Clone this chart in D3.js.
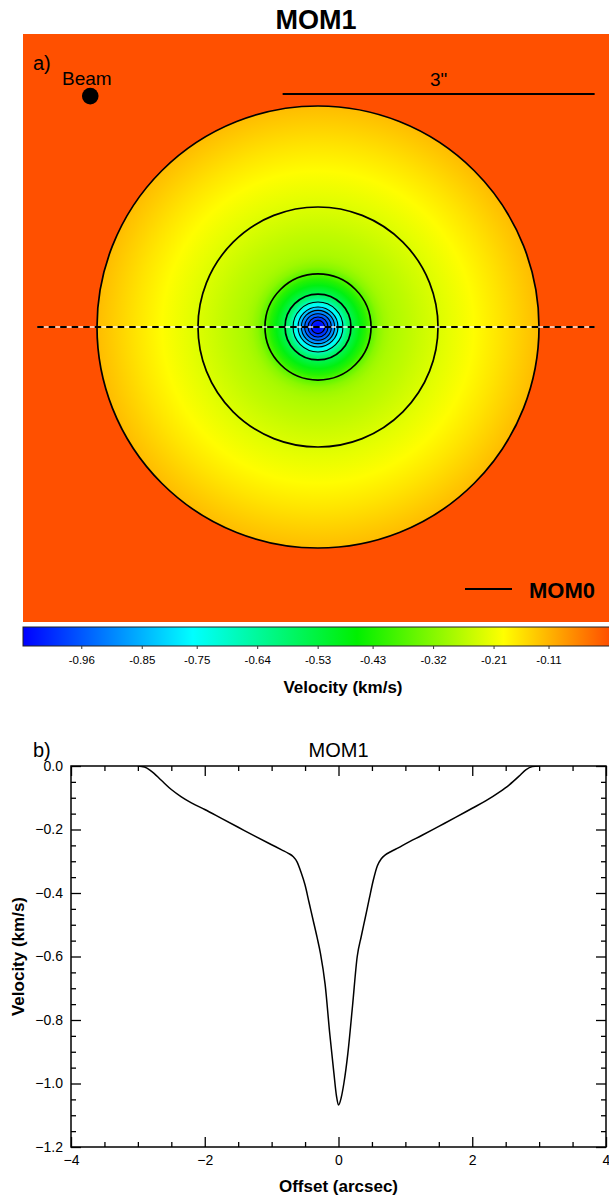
<!DOCTYPE html>
<html>
<head>
<meta charset="utf-8">
<script src="https://cdn.jsdelivr.net/npm/d3@7"></script>
<style>
  body { margin: 0; background: #fff; }
  svg { display: block; }
  text { font-family: "Liberation Sans", Arial, Helvetica, sans-serif; fill: #000; }
</style>
</head>
<body>
<svg id="chart" width="609" height="1197"></svg>
<script>
// Velocity profile along the dashed cut (panel b): offset in arcsec, velocity in km/s
const profileOffset = [
  -3.0, -2.9, -2.8, -2.65, -2.5, -2.35, -2.2, -2.0, -1.75, -1.5, -1.25, -1.0,
  -0.85, -0.75, -0.68, -0.62, -0.56, -0.5, -0.44, -0.38, -0.32, -0.27, -0.2,
  -0.13, -0.07, -0.03, 0.0, 0.04, 0.08, 0.14, 0.21, 0.28, 0.34, 0.4, 0.46,
  0.52, 0.58, 0.64, 0.7, 0.78, 0.9, 1.0, 1.25, 1.5, 1.75, 2.0, 2.2, 2.4,
  2.55, 2.7, 2.8, 2.9, 3.0
];
const profileVelocity = [
  0.0, -0.003, -0.016, -0.045, -0.074, -0.097, -0.116, -0.137, -0.165, -0.193, -0.221, -0.248,
  -0.264, -0.275, -0.285, -0.302, -0.335, -0.375, -0.43, -0.485, -0.54, -0.59, -0.688,
  -0.845, -0.965, -1.04, -1.068, -1.045, -1.0, -0.905, -0.755, -0.6, -0.537, -0.478, -0.418,
  -0.36, -0.315, -0.292, -0.28, -0.27, -0.257, -0.245, -0.218, -0.19, -0.162, -0.133, -0.11, -0.083,
  -0.06, -0.032, -0.012, -0.002, 0.0
];

// MOM0 contour radii (arcsec) drawn over the MOM1 map
const contourRadii = [2.125, 1.154, 0.51, 0.317, 0.24, 0.192, 0.16, 0.128, 0.096, 0.064];
const maskRadius = 2.125;

// Colour table of the velocity map
const cmapFrac = [0, 0.29, 0.57, 0.82, 1];
const cmapColors = ["#0000ff", "#00ffff", "#00f000", "#ffff00", "#ff5000"];
const velocityMin = -1.066;
const velocityMax = 0;
const cbarTickLabels = ["-0.96", "-0.85", "-0.75", "-0.64", "-0.53", "-0.43", "-0.32", "-0.21", "-0.11"];

// Panel b axes
const xTicksMajor = [-4, -2, 0, 2, 4];
const yTicksMajor = [0, -0.2, -0.4, -0.6, -0.8, -1.0, -1.2];

const svg = d3.select("#chart");
const defs = svg.append("defs");

// ---------- panel a: MOM1 map ----------
const mapBox = { left: 23, top: 34, right: 609, bottom: 622 };
const mapCx = 318, mapCy = 327, pxPerArcsec = 104;
const mapX = d3.scaleLinear().domain([0, 1]).range([mapCx, mapCx + pxPerArcsec]);
const mapY = d3.scaleLinear().domain([0, 1]).range([mapCy, mapCy - pxPerArcsec]);
const mapR = d3.scaleLinear().domain([0, 1]).range([0, pxPerArcsec]);

const color = d3.scaleLinear()
  .domain(cmapFrac.map(f => velocityMin + f * (velocityMax - velocityMin)))
  .range(cmapColors);

svg.append("text")
  .attr("x", 316).attr("y", 29)
  .attr("text-anchor", "middle")
  .attr("font-size", 27).attr("font-weight", "bold")
  .text("MOM1");

defs.append("clipPath").attr("id", "mapClip")
  .append("rect")
  .attr("x", mapBox.left).attr("y", mapBox.top)
  .attr("width", mapBox.right - mapBox.left)
  .attr("height", mapBox.bottom - mapBox.top);

const map = svg.append("g").attr("clip-path", "url(#mapClip)");

map.append("rect")
  .attr("x", mapBox.left).attr("y", mapBox.top)
  .attr("width", mapBox.right - mapBox.left)
  .attr("height", mapBox.bottom - mapBox.top)
  .attr("fill", color(velocityMax));

// radial velocity field from the measured profile (positive offsets)
const gradOuter = 2.2;
const radial = defs.append("radialGradient")
  .attr("id", "mom1Field")
  .attr("gradientUnits", "userSpaceOnUse")
  .attr("cx", mapCx).attr("cy", mapCy)
  .attr("r", mapR(gradOuter));
profileOffset.forEach((o, i) => {
  if (o < 0 || o > gradOuter) return;
  radial.append("stop")
    .attr("offset", o / gradOuter)
    .attr("stop-color", color(profileVelocity[i]));
});

map.append("circle")
  .attr("cx", mapCx).attr("cy", mapCy)
  .attr("r", mapR(maskRadius))
  .attr("fill", "url(#mom1Field)");

// MOM0 contours
map.selectAll(".contour")
  .data(contourRadii)
  .enter()
  .append("circle")
  .attr("class", "contour")
  .attr("cx", mapCx).attr("cy", mapCy)
  .attr("r", d => mapR(d))
  .attr("fill", "none")
  .attr("stroke", "#000")
  .attr("stroke-width", (d, i) => (i < 4 ? 1.7 : 1.1));

// dashed cut line
const cutFrom = -2.7, cutTo = 2.66;
map.append("line")
  .attr("x1", mapX(cutFrom)).attr("x2", mapX(cutTo))
  .attr("y1", mapY(0)).attr("y2", mapY(0))
  .attr("stroke", "#fff").attr("stroke-opacity", 0.65).attr("stroke-width", 2);
map.append("line")
  .attr("x1", mapX(cutFrom)).attr("x2", mapX(cutTo))
  .attr("y1", mapY(0)).attr("y2", mapY(0))
  .attr("stroke", "#000").attr("stroke-width", 2.2)
  .attr("stroke-dasharray", "6.5,5");

// scale bar 3"
const barStart = -0.34, barLength = 3;
map.append("line")
  .attr("x1", mapX(barStart)).attr("x2", mapX(barStart + barLength))
  .attr("y1", 94).attr("y2", 94)
  .attr("stroke", "#000").attr("stroke-width", 2);
map.append("text")
  .attr("x", mapX(barStart + barLength / 2)).attr("y", 86)
  .attr("text-anchor", "middle")
  .attr("font-family", "DejaVu Sans")
  .attr("font-size", 19)
  .text('3"');

// beam
const beamX = -2.19, beamY = 2.22, beamDiameter = 0.16;
map.append("circle")
  .attr("cx", mapX(beamX)).attr("cy", mapY(beamY))
  .attr("r", mapR(beamDiameter / 2))
  .attr("fill", "#000");
map.append("text")
  .attr("x", 62).attr("y", 85)
  .attr("font-family", "DejaVu Sans")
  .attr("font-size", 19)
  .text("Beam");
map.append("text")
  .attr("x", 33).attr("y", 70)
  .attr("font-size", 20)
  .text("a)");

// MOM0 legend
map.append("line")
  .attr("x1", 465).attr("x2", 512)
  .attr("y1", 589).attr("y2", 589)
  .attr("stroke", "#000").attr("stroke-width", 2);
map.append("text")
  .attr("x", 529).attr("y", 598)
  .attr("font-size", 22).attr("font-weight", "bold")
  .text("MOM0");

// ---------- colour bar ----------
const cbar = { left: 23, right: 610, top: 627, height: 19 };
const cbX = d3.scaleLinear().domain([velocityMin, velocityMax]).range([cbar.left, cbar.right - 1]);

const lin = defs.append("linearGradient")
  .attr("id", "cbarGrad")
  .attr("gradientUnits", "userSpaceOnUse")
  .attr("x1", cbX(velocityMin)).attr("x2", cbX(velocityMax))
  .attr("y1", 0).attr("y2", 0);
cmapFrac.forEach((f, i) => {
  lin.append("stop")
    .attr("offset", f)
    .attr("stop-color", cmapColors[i]);
});

svg.append("rect")
  .attr("x", cbar.left).attr("y", cbar.top)
  .attr("width", cbar.right - cbar.left)
  .attr("height", cbar.height)
  .attr("fill", "url(#cbarGrad)")
  .attr("stroke", "#222").attr("stroke-width", 1);

const cbAxis = svg.append("g")
  .attr("transform", `translate(0,${cbar.top + cbar.height})`)
  .call(d3.axisBottom(cbX)
    .tickValues(cbarTickLabels.map(Number))
    .tickSize(3)
    .tickSizeOuter(0)
    .tickPadding(7)
    .tickFormat((d, i) => cbarTickLabels[i]));
cbAxis.select(".domain").remove();
cbAxis.selectAll("line").attr("stroke", "#333");
cbAxis.selectAll("text")
  .attr("font-size", 11.5)
  .attr("font-family", "Liberation Sans, Arial, sans-serif")
  .attr("fill", "#000");

svg.append("text")
  .attr("x", 343).attr("y", 693)
  .attr("text-anchor", "middle")
  .attr("font-size", 17).attr("font-weight", "bold")
  .text("Velocity (km/s)");

// ---------- panel b: profile ----------
const plot = { left: 71, right: 606, top: 766, bottom: 1147 };
const x = d3.scaleLinear().domain([-4, 4]).range([plot.left, plot.right]);
const y = d3.scaleLinear().domain([-1.2, 0]).range([plot.bottom, plot.top]);

const fmtX = d => (d < 0 ? "\u2212" : "") + Math.abs(d);
const fmtY = d => (d < -1e-9 ? "\u2212" : "") + Math.abs(d).toFixed(1);
const xMinor = d3.range(-4, 4.001, 0.5).filter(d => !xTicksMajor.includes(d));
const yMinor = d3.range(0, -1.2001, -0.05).filter(d => !yTicksMajor.some(m => Math.abs(m - d) < 1e-6));

function addAxis(axisFn, scale, transform, major, minor, fmt) {
  const gMaj = svg.append("g").attr("transform", transform)
    .call(axisFn(scale).tickValues(major).tickSize(-10).tickSizeOuter(0).tickPadding(8)
      .tickFormat(fmt || ""));
  const gMin = svg.append("g").attr("transform", transform)
    .call(axisFn(scale).tickValues(minor).tickSize(-5).tickSizeOuter(0).tickFormat(""));
  [gMaj, gMin].forEach(g => {
    g.select(".domain").remove();
    g.selectAll("line").attr("stroke", "#000").attr("stroke-width", 1.3);
    g.selectAll("text").attr("font-size", 14)
      .attr("font-family", "Liberation Sans, Arial, sans-serif").attr("fill", "#000");
  });
}

addAxis(d3.axisBottom, x, `translate(0,${plot.bottom})`, xTicksMajor, xMinor, fmtX);
addAxis(d3.axisTop, x, `translate(0,${plot.top})`, xTicksMajor, xMinor, null);
addAxis(d3.axisLeft, y, `translate(${plot.left},0)`, yTicksMajor, yMinor, fmtY);
addAxis(d3.axisRight, y, `translate(${plot.right},0)`, yTicksMajor, yMinor, null);

svg.append("rect")
  .attr("x", plot.left).attr("y", plot.top)
  .attr("width", plot.right - plot.left)
  .attr("height", plot.bottom - plot.top)
  .attr("fill", "none")
  .attr("stroke", "#000").attr("stroke-width", 1.5);

defs.append("clipPath").attr("id", "plotClip")
  .append("rect")
  .attr("x", plot.left).attr("y", plot.top)
  .attr("width", plot.right - plot.left)
  .attr("height", plot.bottom - plot.top);

const line = d3.line()
  .x((d, i) => x(profileOffset[i]))
  .y(d => y(d))
  .curve(d3.curveMonotoneX);

svg.append("path")
  .datum(profileVelocity)
  .attr("clip-path", "url(#plotClip)")
  .attr("d", line)
  .attr("fill", "none")
  .attr("stroke", "#000")
  .attr("stroke-width", 1.5);

svg.append("text")
  .attr("x", 33).attr("y", 757)
  .attr("font-size", 20)
  .text("b)");
svg.append("text")
  .attr("x", 338.5).attr("y", 757)
  .attr("text-anchor", "middle")
  .attr("font-size", 20)
  .text("MOM1");
svg.append("text")
  .attr("x", 338.5).attr("y", 1192)
  .attr("text-anchor", "middle")
  .attr("font-size", 17).attr("font-weight", "bold")
  .text("Offset (arcsec)");
svg.append("text")
  .attr("transform", `translate(24,${(plot.top + plot.bottom) / 2}) rotate(-90)`)
  .attr("text-anchor", "middle")
  .attr("font-size", 17).attr("font-weight", "bold")
  .text("Velocity (km/s)");
</script>
</body>
</html>
